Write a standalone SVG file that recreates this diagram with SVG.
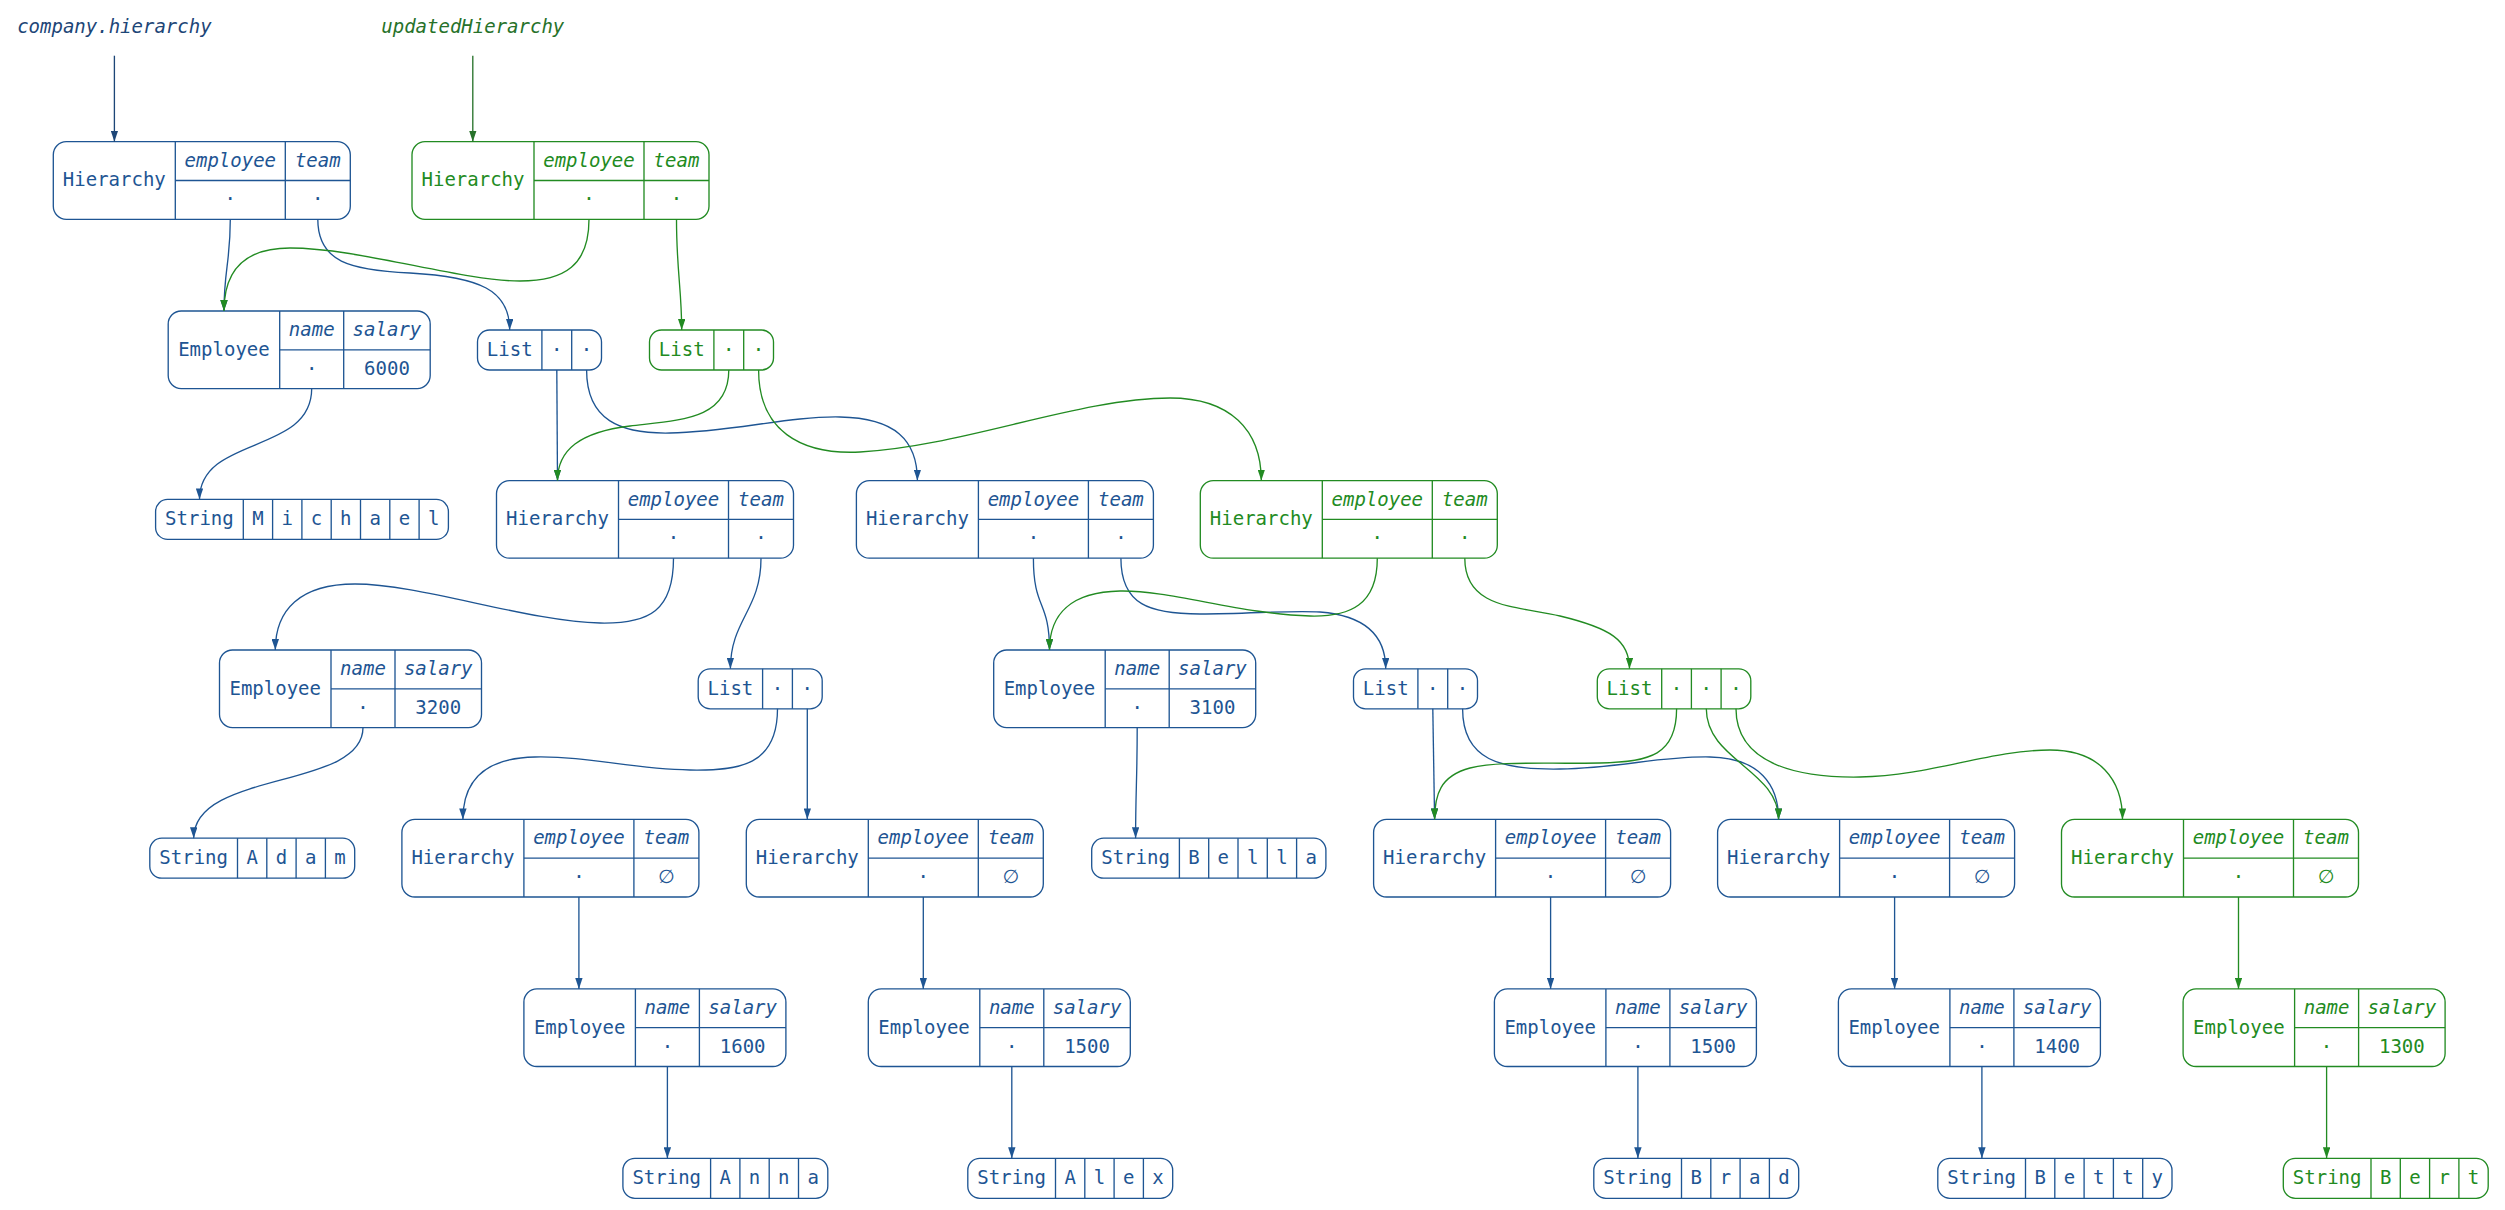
<svg xmlns="http://www.w3.org/2000/svg" width="2505" height="1210" viewBox="0 0 2505 1210">
<defs>
<style>
text{font-family:"DejaVu Sans Mono","Liberation Mono",monospace;font-size:19px;text-anchor:middle;fill:currentColor}
.i{font-style:italic}
.nil{font-family:"DejaVu Sans","Liberation Sans",sans-serif}
rect,line{fill:none;stroke:currentColor;stroke-width:1.33}
.nb{color:#1e5593}
.ng{color:#228b22}
.lb{color:#1d4677}
.lg{color:#27722a}
.eb{stroke:#1e5593;stroke-width:1.33;fill:none;marker-end:url(#ab)}
.eg{stroke:#228b22;stroke-width:1.33;fill:none;marker-end:url(#ag)}
.elb{stroke:#1d4677;stroke-width:1.33;fill:none;marker-end:url(#alb)}
.elg{stroke:#27722a;stroke-width:1.33;fill:none;marker-end:url(#alg)}
</style>
<marker id="ab" viewBox="0 0 11 7.4" refX="11" refY="3.7" markerWidth="11" markerHeight="7.4" markerUnits="userSpaceOnUse" orient="auto"><path d="M0,0L11,3.7L0,7.4z" fill="#1e5593"/></marker>
<marker id="ag" viewBox="0 0 11 7.4" refX="11" refY="3.7" markerWidth="11" markerHeight="7.4" markerUnits="userSpaceOnUse" orient="auto"><path d="M0,0L11,3.7L0,7.4z" fill="#228b22"/></marker>
<marker id="alb" viewBox="0 0 11 7.4" refX="11" refY="3.7" markerWidth="11" markerHeight="7.4" markerUnits="userSpaceOnUse" orient="auto"><path d="M0,0L11,3.7L0,7.4z" fill="#1d4677"/></marker>
<marker id="alg" viewBox="0 0 11 7.4" refX="11" refY="3.7" markerWidth="11" markerHeight="7.4" markerUnits="userSpaceOnUse" orient="auto"><path d="M0,0L11,3.7L0,7.4z" fill="#27722a"/></marker>
<g id="hier">
<rect x="0" y="0" width="297" height="77.6" rx="13"/>
<line x1="122" y1="0" x2="122" y2="77.6"/>
<line x1="232" y1="0" x2="232" y2="77.6"/>
<line x1="122" y1="38.8" x2="297" y2="38.8"/>
<text x="61" y="44.8">Hierarchy</text>
<text x="177" y="25" class="i">employee</text>
<text x="264.5" y="25" class="i">team</text>
<text x="177" y="63.8">·</text>
</g>
<g id="emp">
<rect x="0" y="0" width="262" height="77.6" rx="13"/>
<line x1="111.5" y1="0" x2="111.5" y2="77.6"/>
<line x1="175.5" y1="0" x2="175.5" y2="77.6"/>
<line x1="111.5" y1="38.8" x2="262" y2="38.8"/>
<text x="55.75" y="44.8">Employee</text>
<text x="143.5" y="25" class="i">name</text>
<text x="218.75" y="25" class="i">salary</text>
<text x="143.5" y="63.8">·</text>
</g>
<g id="list2">
<rect x="0" y="0" width="124" height="40" rx="12"/>
<line x1="64.4" y1="0" x2="64.4" y2="40"/>
<line x1="94.2" y1="0" x2="94.2" y2="40"/>
<text x="32.2" y="26">List</text>
<text x="79.3" y="26">·</text>
<text x="109.1" y="26">·</text>
</g>
</defs>

<g id="label-company" class="lb"><text x="114.4" y="33" class="i">company.hierarchy</text></g>
<g id="label-updated" class="lg"><text x="472.8" y="33" class="i">updatedHierarchy</text></g>

<g id="n-h0" class="nb" transform="translate(53.3,141.7)"><use href="#hier"/><text x="264.5" y="63.8">·</text></g>
<g id="n-h0g" class="ng" transform="translate(412,141.7)"><use href="#hier"/><text x="264.5" y="63.8">·</text></g>

<g id="n-e1" class="nb" transform="translate(168.2,311)"><use href="#emp"/><text x="218.75" y="63.8">6000</text></g>
<g id="n-l1" class="nb" transform="translate(477.5,330)"><use href="#list2"/></g>
<g id="n-l1g" class="ng" transform="translate(649.5,330)"><use href="#list2"/></g>

<g id="n-s1" class="nb" transform="translate(155.6,499.4)">
<rect x="0" y="0" width="292.8" height="40" rx="12"/>
<line x1="87.7" y1="0" x2="87.7" y2="40"/><line x1="117" y1="0" x2="117" y2="40"/><line x1="146.3" y1="0" x2="146.3" y2="40"/><line x1="175.6" y1="0" x2="175.6" y2="40"/><line x1="204.9" y1="0" x2="204.9" y2="40"/><line x1="234.2" y1="0" x2="234.2" y2="40"/><line x1="263.5" y1="0" x2="263.5" y2="40"/>
<text x="43.85" y="26">String</text><text x="102.35" y="26">M</text><text x="131.65" y="26">i</text><text x="160.95" y="26">c</text><text x="190.25" y="26">h</text><text x="219.55" y="26">a</text><text x="248.85" y="26">e</text><text x="278.15" y="26">l</text>
</g>
<g id="n-h2a" class="nb" transform="translate(496.5,480.6)"><use href="#hier"/><text x="264.5" y="63.8">·</text></g>
<g id="n-h2b" class="nb" transform="translate(856.4,480.6)"><use href="#hier"/><text x="264.5" y="63.8">·</text></g>
<g id="n-h2c" class="ng" transform="translate(1200.3,480.6)"><use href="#hier"/><text x="264.5" y="63.8">·</text></g>

<g id="n-e3a" class="nb" transform="translate(219.5,650)"><use href="#emp"/><text x="218.75" y="63.8">3200</text></g>
<g id="n-l3a" class="nb" transform="translate(698.2,668.8)"><use href="#list2"/></g>
<g id="n-e3b" class="nb" transform="translate(993.7,650)"><use href="#emp"/><text x="218.75" y="63.8">3100</text></g>
<g id="n-l3b" class="nb" transform="translate(1353.5,668.8)"><use href="#list2"/></g>
<g id="n-l3c" class="ng" transform="translate(1597.3,668.8)">
<rect x="0" y="0" width="153.5" height="40" rx="12"/>
<line x1="64.4" y1="0" x2="64.4" y2="40"/><line x1="94.1" y1="0" x2="94.1" y2="40"/><line x1="123.8" y1="0" x2="123.8" y2="40"/>
<text x="32.2" y="26">List</text><text x="79.25" y="26">·</text><text x="108.95" y="26">·</text><text x="138.65" y="26">·</text>
</g>

<g id="n-s4a" class="nb" transform="translate(149.8,838.2)">
<rect x="0" y="0" width="204.9" height="40" rx="12"/>
<line x1="87.7" y1="0" x2="87.7" y2="40"/><line x1="117" y1="0" x2="117" y2="40"/><line x1="146.3" y1="0" x2="146.3" y2="40"/><line x1="175.6" y1="0" x2="175.6" y2="40"/>
<text x="43.85" y="26">String</text><text x="102.35" y="26">A</text><text x="131.65" y="26">d</text><text x="160.95" y="26">a</text><text x="190.25" y="26">m</text>
</g>
<g id="n-h4a" class="nb" transform="translate(401.9,819.4)"><use href="#hier"/><text x="264.5" y="64" class="nil">∅</text></g>
<g id="n-h4b" class="nb" transform="translate(746.3,819.4)"><use href="#hier"/><text x="264.5" y="64" class="nil">∅</text></g>
<g id="n-s4b" class="nb" transform="translate(1091.7,838.2)">
<rect x="0" y="0" width="234.2" height="40" rx="12"/>
<line x1="87.7" y1="0" x2="87.7" y2="40"/><line x1="117" y1="0" x2="117" y2="40"/><line x1="146.3" y1="0" x2="146.3" y2="40"/><line x1="175.6" y1="0" x2="175.6" y2="40"/><line x1="204.9" y1="0" x2="204.9" y2="40"/>
<text x="43.85" y="26">String</text><text x="102.35" y="26">B</text><text x="131.65" y="26">e</text><text x="160.95" y="26">l</text><text x="190.25" y="26">l</text><text x="219.55" y="26">a</text>
</g>
<g id="n-h4c" class="nb" transform="translate(1373.6,819.4)"><use href="#hier"/><text x="264.5" y="64" class="nil">∅</text></g>
<g id="n-h4d" class="nb" transform="translate(1717.6,819.4)"><use href="#hier"/><text x="264.5" y="64" class="nil">∅</text></g>
<g id="n-h4e" class="ng" transform="translate(2061.5,819.4)"><use href="#hier"/><text x="264.5" y="64" class="nil">∅</text></g>

<g id="n-e5a" class="nb" transform="translate(523.9,988.9)"><use href="#emp"/><text x="218.75" y="63.8">1600</text></g>
<g id="n-e5b" class="nb" transform="translate(868.3,988.9)"><use href="#emp"/><text x="218.75" y="63.8">1500</text></g>
<g id="n-e5c" class="nb" transform="translate(1494.4,988.9)"><use href="#emp"/><text x="218.75" y="63.8">1500</text></g>
<g id="n-e5d" class="nb" transform="translate(1838.4,988.9)"><use href="#emp"/><text x="218.75" y="63.8">1400</text></g>
<g id="n-e5e" class="ng" transform="translate(2183.1,988.9)"><use href="#emp"/><text x="218.75" y="63.8">1300</text></g>

<g id="n-s6a" class="nb" transform="translate(622.9,1158.3)">
<rect x="0" y="0" width="204.9" height="40" rx="12"/>
<line x1="87.7" y1="0" x2="87.7" y2="40"/><line x1="117" y1="0" x2="117" y2="40"/><line x1="146.3" y1="0" x2="146.3" y2="40"/><line x1="175.6" y1="0" x2="175.6" y2="40"/>
<text x="43.85" y="26">String</text><text x="102.35" y="26">A</text><text x="131.65" y="26">n</text><text x="160.95" y="26">n</text><text x="190.25" y="26">a</text>
</g>
<g id="n-s6b" class="nb" transform="translate(967.8,1158.3)">
<rect x="0" y="0" width="204.9" height="40" rx="12"/>
<line x1="87.7" y1="0" x2="87.7" y2="40"/><line x1="117" y1="0" x2="117" y2="40"/><line x1="146.3" y1="0" x2="146.3" y2="40"/><line x1="175.6" y1="0" x2="175.6" y2="40"/>
<text x="43.85" y="26">String</text><text x="102.35" y="26">A</text><text x="131.65" y="26">l</text><text x="160.95" y="26">e</text><text x="190.25" y="26">x</text>
</g>
<g id="n-s6c" class="nb" transform="translate(1593.8,1158.3)">
<rect x="0" y="0" width="204.9" height="40" rx="12"/>
<line x1="87.7" y1="0" x2="87.7" y2="40"/><line x1="117" y1="0" x2="117" y2="40"/><line x1="146.3" y1="0" x2="146.3" y2="40"/><line x1="175.6" y1="0" x2="175.6" y2="40"/>
<text x="43.85" y="26">String</text><text x="102.35" y="26">B</text><text x="131.65" y="26">r</text><text x="160.95" y="26">a</text><text x="190.25" y="26">d</text>
</g>
<g id="n-s6d" class="nb" transform="translate(1937.8,1158.3)">
<rect x="0" y="0" width="234.2" height="40" rx="12"/>
<line x1="87.7" y1="0" x2="87.7" y2="40"/><line x1="117" y1="0" x2="117" y2="40"/><line x1="146.3" y1="0" x2="146.3" y2="40"/><line x1="175.6" y1="0" x2="175.6" y2="40"/><line x1="204.9" y1="0" x2="204.9" y2="40"/>
<text x="43.85" y="26">String</text><text x="102.35" y="26">B</text><text x="131.65" y="26">e</text><text x="160.95" y="26">t</text><text x="190.25" y="26">t</text><text x="219.55" y="26">y</text>
</g>
<g id="n-s6e" class="ng" transform="translate(2283.3,1158.3)">
<rect x="0" y="0" width="204.9" height="40" rx="12"/>
<line x1="87.7" y1="0" x2="87.7" y2="40"/><line x1="117" y1="0" x2="117" y2="40"/><line x1="146.3" y1="0" x2="146.3" y2="40"/><line x1="175.6" y1="0" x2="175.6" y2="40"/>
<text x="43.85" y="26">String</text><text x="102.35" y="26">B</text><text x="131.65" y="26">e</text><text x="160.95" y="26">r</text><text x="190.25" y="26">t</text>
</g>

<g id="connectors">
<path class="elb" d="M114.4,55.7L114.4,141.7"/>
<path class="elg" d="M472.8,55.7L472.8,141.7"/>
<path class="eb" d="M230.3,219.3C230.3,262 224,270 224,311"/>
<path class="eb" d="M317.8,219.3C317.8,262 350,270 410,273C480,277 509.7,290 509.7,330"/>
<path class="eg" d="M589,219.3C589,265 565,281 520,281C460,281 360,248 290,248C240,248 224,275 224,311"/>
<path class="eg" d="M676.5,219.3C676.5,270 681.7,290 681.7,330"/>
<path class="eb" d="M311.7,388.6C311.7,455 199.5,435 199.5,499.4"/>
<path class="eb" d="M556.8,370L557.5,480.6"/>
<path class="eb" d="M586.6,370C586.6,420 620,434 670,433C730,432 790,416 840,417C895,418 917.4,440 917.4,480.6"/>
<path class="eg" d="M728.8,370C728.8,420 680,420 630,426C580,432 557.5,450 557.5,480.6"/>
<path class="eg" d="M758.6,370C758.6,430 800,455 860,452C960,447 1080,398 1170,398C1230,398 1261.3,430 1261.3,480.6"/>
<path class="eb" d="M673.5,558.2C673.5,610 650,624 600,623C530,622 420,584 355,584C300,584 275.3,610 275.3,650"/>
<path class="eb" d="M761,558.2C761,610 730.4,620 730.4,668.8"/>
<path class="eb" d="M1033.4,558.2C1033.4,610 1049.5,600 1049.5,650"/>
<path class="eb" d="M1120.9,558.2C1120.9,605 1150,614 1200,614C1250,614 1290,610 1320,612C1370,616 1385.7,640 1385.7,668.8"/>
<path class="eg" d="M1377.3,558.2C1377.3,605 1350,617 1310,616C1240,614 1170,590 1120,591C1070,592 1049.5,615 1049.5,650"/>
<path class="eg" d="M1464.8,558.2C1464.8,610 1520,606 1560,616C1610,628 1629.5,640 1629.5,668.8"/>
<path class="eb" d="M363,727.6C363,790 193.7,770 193.7,838.2"/>
<path class="eb" d="M777.5,708.8C777.5,765 740,771 690,770C630,769 590,756 535,757C480,758 462.9,785 462.9,819.4"/>
<path class="eb" d="M807.3,708.8L807.3,819.4"/>
<path class="eb" d="M1137.2,727.6C1137.2,780 1135.6,790 1135.6,838.2"/>
<path class="eb" d="M1432.8,708.8L1434.6,819.4"/>
<path class="eb" d="M1462.6,708.8C1462.6,760 1500,770 1560,769C1620,768 1660,756 1710,757C1760,758 1778.6,785 1778.6,819.4"/>
<path class="eg" d="M1676.6,708.8C1676.6,755 1650,762 1600,763C1540,764 1500,761 1470,768C1440,776 1434.6,795 1434.6,819.4"/>
<path class="eg" d="M1706.3,708.8C1706.3,760 1778.6,770 1778.6,819.4"/>
<path class="eg" d="M1736,708.8C1736,765 1800,778 1860,777C1930,776 1990,750 2050,750C2100,750 2122.5,780 2122.5,819.4"/>
<path class="eb" d="M578.9,897L578.9,988.9"/>
<path class="eb" d="M923.3,897L923.3,988.9"/>
<path class="eb" d="M1550.6,897L1550.6,988.9"/>
<path class="eb" d="M1894.6,897L1894.6,988.9"/>
<path class="eg" d="M2238.5,897L2238.5,988.9"/>
<path class="eb" d="M667.4,1066.5L667.4,1158.3"/>
<path class="eb" d="M1011.8,1066.5L1011.8,1158.3"/>
<path class="eb" d="M1637.9,1066.5L1637.9,1158.3"/>
<path class="eb" d="M1981.9,1066.5L1981.9,1158.3"/>
<path class="eg" d="M2326.6,1066.5L2326.6,1158.3"/>
</g>
</svg>
